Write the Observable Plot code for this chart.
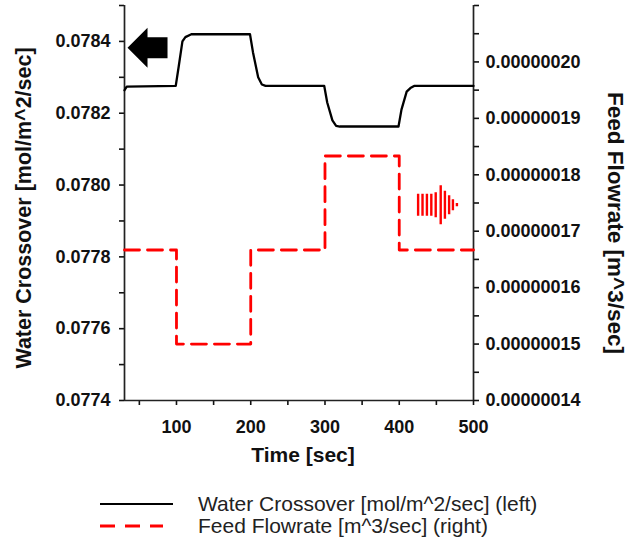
<!DOCTYPE html>
<html>
<head>
<meta charset="utf-8">
<script src="https://cdn.jsdelivr.net/npm/d3@7"></script>
<script src="https://cdn.jsdelivr.net/npm/@observablehq/plot@0.6"></script>
<style>
  body { margin: 0; background: #fff; }
  #chart { width: 638px; }
  .legend { margin-top: 18px; font-family: "Liberation Sans", Arial, sans-serif; font-size: 21px; color: #222; }
  .row { display: flex; align-items: center; height: 22px; }
  .row svg { margin-left: 100px; margin-right: 24px; }
</style>
</head>
<body>
<div id="chart"></div>
<script>
// ---- data ----
const crossTime  = [30, 33, 99, 103, 108, 112, 120, 199, 203, 210, 215, 220, 299, 303, 310, 315, 320, 399, 403, 410, 415, 420, 500];
const crossValue = [0.078264, 0.078274, 0.078276, 0.07833, 0.07840, 0.078412, 0.07842, 0.07842, 0.07837, 0.07830, 0.07828, 0.078276,
                    0.078276, 0.07823, 0.07818, 0.078165, 0.078163, 0.078163, 0.07821, 0.07826, 0.07827, 0.078276, 0.078276];
const feedTime  = [30, 100, 200, 300, 400, 500];
const feedValue = [1.6667e-7, 1.5e-7, 1.6667e-7, 1.8333e-7, 1.6667e-7, 1.6667e-7];

const leftDomain  = [0.0774, 0.0785];
const rightDomain = [1.4e-7, 2.1e-7];
const xDomain = [30, 500];

const xTicks = [100, 200, 300, 400, 500];
const xMinor = [50, 150, 250, 350, 450];
const leftTicks = [0.0774, 0.0776, 0.0778, 0.0780, 0.0782, 0.0784];
const leftMinor = [0.0775, 0.0777, 0.0779, 0.0781, 0.0783, 0.0785];
const rightTicks = [1.4e-7, 1.5e-7, 1.6e-7, 1.7e-7, 1.8e-7, 1.9e-7, 2.0e-7];
const rightMinor = [1.45e-7, 1.55e-7, 1.65e-7, 1.75e-7, 1.85e-7, 1.95e-7, 2.05e-7, 2.1e-7];

const xTitle = "Time [sec]";
const leftTitle = "Water Crossover [mol/m^2/sec]";
const rightTitle = "Feed Flowrate [m^3/sec]";
const legendLabels = ["Water Crossover [mol/m^2/sec] (left)", "Feed Flowrate [m^3/sec] (right)"];

// annotation arrows (data coordinates)
const leftArrow  = [{time: 61, value: 0.078382}];
const rightArrow = [{time: 451, value: 1.747e-7}];

// ---- build ----
const toLeft = d3.scaleLinear().domain(rightDomain).range(leftDomain);
const cross = crossTime.map((t, i) => ({t, v: crossValue[i]}));
const feed = feedTime.map((t, i) => ({t, v: toLeft(feedValue[i])}));

const blackArrowSymbol = {
  draw(ctx) {
    ctx.moveTo(-20, 0);
    ctx.lineTo(0, -20);
    ctx.lineTo(0, -10.5);
    ctx.lineTo(20, -10.5);
    ctx.lineTo(20, 10.5);
    ctx.lineTo(0, 10.5);
    ctx.lineTo(0, 20);
    ctx.closePath();
  }
};
const redArrowSymbol = {
  draw(ctx) {
    const bars = [[-19, 11], [-14.6, 11], [-10.2, 11], [-5.8, 11], [-1.4, 12.5], [3.6, 19.5], [7.8, 14], [12, 9.5], [15.8, 5.5], [19.8, 1.6]];
    for (const [dx, h] of bars) ctx.rect(dx - 1.2, -h, 2.4, 2 * h);
  }
};

const font = {fontFamily: "'Liberation Sans', Arial, sans-serif", fontWeight: "bold", fontSize: "18px", color: "#111", background: "white", overflow: "visible"};

const plot = Plot.plot({
  width: 638,
  height: 475,
  marginLeft: 124,
  marginRight: 165,
  marginTop: 5,
  marginBottom: 75,
  style: font,
  x: {domain: xDomain},
  y: {domain: leftDomain},
  marks: [
    Plot.axisX({ticks: xTicks, tickSize: 5, tickPadding: 15, tickFormat: d => d, label: null, strokeWidth: 1.6}),
    Plot.axisX({ticks: xMinor, tickSize: 5, tickFormat: () => "", label: null, strokeWidth: 1.6}),
    Plot.axisY({ticks: leftTicks, anchor: "left", tickSize: 5, tickPadding: 9, tickFormat: d3.format(".4f"), label: null, strokeWidth: 1.6}),
    Plot.axisY({ticks: leftMinor, anchor: "left", tickSize: 5, tickFormat: () => "", label: null, strokeWidth: 1.6}),
    Plot.axisY({ticks: rightTicks.map(toLeft), anchor: "right", tickSize: 5, tickPadding: 7,
      tickFormat: d => toLeft.invert(d).toFixed(8), label: null, strokeWidth: 1.6}),
    Plot.axisY({ticks: rightMinor.map(toLeft), anchor: "right", tickSize: 5, tickFormat: () => "", label: null, strokeWidth: 1.6}),
    Plot.ruleX([xDomain[0]], {stroke: "#222", strokeWidth: 1.7}),
    Plot.ruleX([xDomain[1]], {stroke: "#222", strokeWidth: 1.7}),
    Plot.ruleY([leftDomain[0]], {stroke: "#222", strokeWidth: 1.7}),
    Plot.line(feed, {x: "t", y: "v", curve: "step-after", stroke: "#ff0000", strokeWidth: 2.8, strokeDasharray: "15,8"}),
    Plot.line(cross, {x: "t", y: "v", stroke: "#000", strokeWidth: 2.3}),
    Plot.dot(leftArrow, {x: "time", y: "value", symbol: blackArrowSymbol, fill: "#000", stroke: null}),
    Plot.dot(rightArrow, {x: "time", y: d => toLeft(d.value), symbol: redArrowSymbol, fill: "#ff0000", stroke: null}),
    Plot.text([xTitle], {frameAnchor: "bottom", textAnchor: "middle", lineAnchor: "middle", dy: 55, dx: 4, fontSize: 21, fontWeight: "bold"}),
    Plot.text([leftTitle], {frameAnchor: "left", textAnchor: "middle", lineAnchor: "middle", dx: -100, dy: 5, rotate: -90, fontSize: 21.5, fontWeight: "bold"}),
    Plot.text([rightTitle], {frameAnchor: "right", textAnchor: "middle", lineAnchor: "middle", dx: 142, dy: 20, rotate: 90, fontSize: 22.5, fontWeight: "bold"})
  ]
});
document.getElementById("chart").append(plot);

// legend
const legend = document.createElement("div");
legend.className = "legend";
const styles = [{stroke: "#000", dash: null, len: 73, w: 2.2}, {stroke: "#ff0000", dash: "15,10", len: 63, w: 2.8}];
legendLabels.forEach((label, i) => {
  const row = document.createElement("div");
  row.className = "row";
  const s = styles[i];
  row.innerHTML = `<svg width="74" height="22"><line x1="0" x2="${s.len}" y1="11" y2="11" stroke="${s.stroke}" stroke-width="${s.w}" ${s.dash ? `stroke-dasharray="${s.dash}"` : ""}/></svg><span>${label}</span>`;
  legend.append(row);
});
document.getElementById("chart").append(legend);
</script>
</body>
</html>
